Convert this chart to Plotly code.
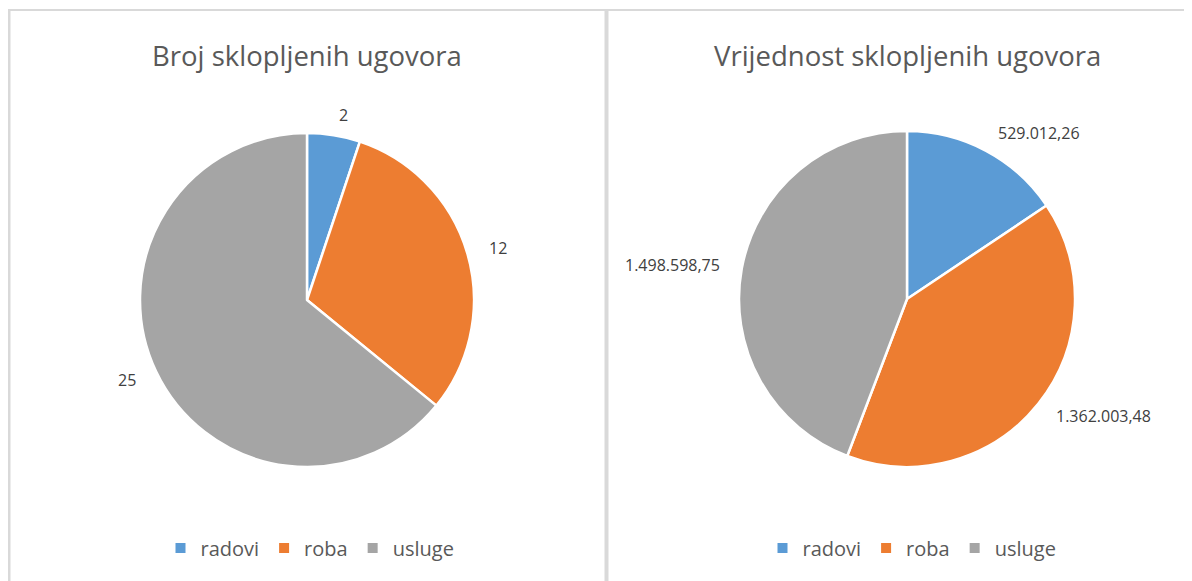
import math
import plotly.graph_objects as go

# ---- data ----
categories = ["radovi", "roba", "usluge"]
count_values = [2, 12, 25]
value_values = [529012.26, 1362003.48, 1498598.75]
titles = ["Broj sklopljenih ugovora", "Vrijednost sklopljenih ugovora"]
colors = ["#5B9BD5", "#ED7D31", "#A5A5A5"]

# page body has an 8px margin; figure is sized / shifted to compensate
OFF = 8
W, H = 1192 - OFF, 581 - OFF
FONT = "Open Sans"
TXT = "#595959"


def fmt_hr(v, decimals):
    s = f"{v:,.{decimals}f}"
    return s.replace(",", "X").replace(".", ",").replace("X", ".")


def px(x):
    return (x - OFF) / W


def py(y):
    return (H - (y - OFF)) / H


# pie geometry (screen pixel centers / radius)
pies = [
    dict(cx=307, cy=300, r=167, vals=count_values, dec=0, legend="legend", lx=310, tsize=27.5),
    dict(cx=907, cy=299, r=168, vals=value_values, dec=2, legend="legend2", lx=912, tsize=27.5),
]

fig = go.Figure()
annotations = []
for i, p in enumerate(pies):
    fig.add_trace(go.Pie(
        labels=categories,
        values=p["vals"],
        sort=False,
        direction="clockwise",
        rotation=0,
        marker=dict(colors=colors, line=dict(color="white", width=2.5)),
        textinfo="none",
        hoverinfo="label+value+percent",
        domain=dict(x=[px(p["cx"] - p["r"]), px(p["cx"] + p["r"])],
                    y=[py(p["cy"] + p["r"]), py(p["cy"] - p["r"])]),
        showlegend=False,
    ))
    # legend entries (one legend per chart)
    for cat, col in zip(categories, colors):
        fig.add_trace(go.Scatter(
            x=[None], y=[None], mode="markers", name=cat,
            marker=dict(symbol="square", size=10, color=col),
            legend=p["legend"], showlegend=True, hoverinfo="skip",
        ))
    total = sum(p["vals"])
    cum = 0.0
    for v in p["vals"]:
        mid = (cum + v / 2) / total * 2 * math.pi
        cum += v
        d = p["r"] + 20
        x = p["cx"] + d * math.sin(mid)
        y = p["cy"] - d * math.cos(mid)
        annotations.append(dict(
            x=px(x), y=py(y), xref="paper", yref="paper",
            text=fmt_hr(v, p["dec"]), showarrow=False,
            xanchor="left" if math.sin(mid) > 0 else "right",
            yanchor="middle",
            font=dict(family=FONT, size=16, color="#404040"),
        ))
    annotations.append(dict(
        x=px(p["cx"]), y=py(55), xref="paper", yref="paper",
        text=titles[i], showarrow=False, xanchor="center", yanchor="middle",
        font=dict(family=FONT, size=p["tsize"], color=TXT),
    ))

legend_style = dict(orientation="h", yanchor="middle", y=py(548),
                    xanchor="center", font=dict(family=FONT, size=20, color=TXT),
                    itemwidth=30, bgcolor="rgba(0,0,0,0)")

shapes = [
    dict(type="line", xref="paper", yref="paper", x0=px(7), x1=1.0, y0=py(10), y1=py(10),
         line=dict(color="#D9D9D9", width=2)),
    dict(type="line", xref="paper", yref="paper", x0=px(9), x1=px(9), y0=py(10), y1=0,
         line=dict(color="#D9D9D9", width=3)),
    dict(type="line", xref="paper", yref="paper", x0=px(606.5), x1=px(606.5), y0=py(10), y1=0,
         line=dict(color="#D9D9D9", width=4)),
]

fig.update_layout(
    width=W, height=H,
    margin=dict(l=0, r=0, t=0, b=0),
    paper_bgcolor="white", plot_bgcolor="white",
    xaxis=dict(visible=False), yaxis=dict(visible=False),
    annotations=annotations,
    shapes=shapes,
    legend=dict(x=px(pies[0]["lx"]), **legend_style),
    legend2=dict(x=px(pies[1]["lx"]), **legend_style),
)

fig.write_html("out.html")
